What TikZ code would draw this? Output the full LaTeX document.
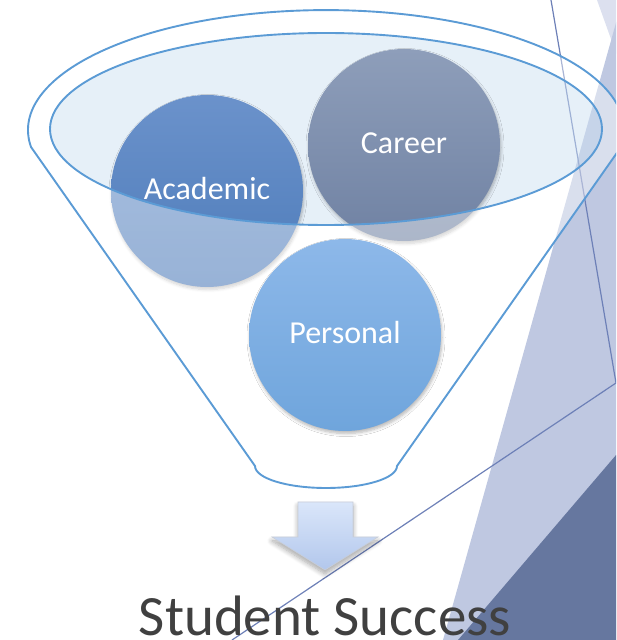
\documentclass[tikz,border=0pt]{standalone}
\usepackage{fontspec}
\setmainfont{Carlito}
\usetikzlibrary{shadows.blur}

\definecolor{funnelblue}{HTML}{5B9BD5}
\definecolor{sliverfill}{HTML}{DCE0EF}
\definecolor{wedgefill}{HTML}{BFC8E1}
\definecolor{darkfill}{HTML}{66779F}
\definecolor{accentline}{HTML}{6D80B7}
\definecolor{acadtop}{HTML}{6B92CB}
\definecolor{acadbot}{HTML}{4E7CBA}
\definecolor{cartop}{HTML}{8E9EBA}
\definecolor{carbot}{HTML}{7082A3}
\definecolor{perstop}{HTML}{8DB8E9}
\definecolor{persbot}{HTML}{6FA5DC}
\definecolor{arrowtop}{HTML}{DAE6FA}
\definecolor{arrowbot}{HTML}{B2C7EC}
\definecolor{arrowedge}{HTML}{C9CED8}
\definecolor{titlegray}{HTML}{404040}

% outline of the funnel: rim arc, two sides, rounded spout
\newcommand\funnelpath{(31,493) arc[start angle=188.1, end angle=-8.1, x radius=298, y radius=120]
  -- (397,174) arc[start angle=0, end angle=-180, x radius=71, y radius=22] -- cycle}
\newcommand\mouthpath{(326,511) ellipse[x radius=276, y radius=96]}

\tikzset{
  bubble/.style={circle, minimum size=192pt, inner sep=0pt, text=white,
    font=\fontsize{32}{38}\selectfont, text height=17pt, text depth=0pt,
    blur shadow={shadow xshift=1pt, shadow yshift=-2.5pt, shadow blur steps=6,
      shadow blur radius=3pt, shadow opacity=28}},
  funnelline/.style={draw=funnelblue, line width=1.9pt, line join=round},
  wash/.style={fill=white, fill opacity=0.42},
  themeline/.style={draw=accentline, line width=1.2pt},
}

\begin{document}
\begin{tikzpicture}[x=1pt, y=1pt]
\useasboundingbox (0,0) rectangle (616,640);
\clip (0,0) rectangle (616,640);

% background facets
\fill[sliverfill] (597,640) -- (640,640) -- (640,520) -- cycle;
\fill[wedgefill] (622.4,640) -- (443,0) -- (640,0) -- (640,640) -- cycle;
\fill[darkfill] (458,0) -- (640,213) -- (640,0) -- cycle;

\coordinate (l1a) at (551,640);
\coordinate (meet) at (616,257);
\coordinate (l2b) at (232,0);
\draw[themeline] (l1a) -- (meet) -- (l2b);

% funnel mouth
\fill[wash] \mouthpath;
\fill[funnelblue, fill opacity=0.15] \mouthpath;

% the two upper circles
\node[bubble, top color=acadtop, bottom color=acadbot] (academic) at (207,449) {Academic};
\node[bubble, top color=cartop, bottom color=carbot] (career) at (404,495) {Career};

% translucent funnel body over everything outside the mouth
\fill[wash, even odd rule] \funnelpath \mouthpath;

\node[bubble, top color=perstop, bottom color=persbot] (personal) at (345,305) {Personal};

% funnel outlines
\draw[funnelline] \funnelpath;
\draw[funnelline] \mouthpath;

% down arrow
\path[top color=arrowtop, bottom color=arrowbot, draw=arrowedge, line width=0.6pt,
  blur shadow={shadow xshift=0pt, shadow yshift=-4pt, shadow blur steps=8,
    shadow blur radius=5pt, shadow opacity=35}]
  (298,138) -- (353,138) -- (353,103) -- (378,103) -- (325,70) -- (272,103) -- (298,103) -- cycle;

\node[anchor=base, text=titlegray, font=\fontsize{57}{66}\selectfont, inner sep=0pt]
  (title) at (325,4.5) {Student Success};
\end{tikzpicture}
\end{document}
